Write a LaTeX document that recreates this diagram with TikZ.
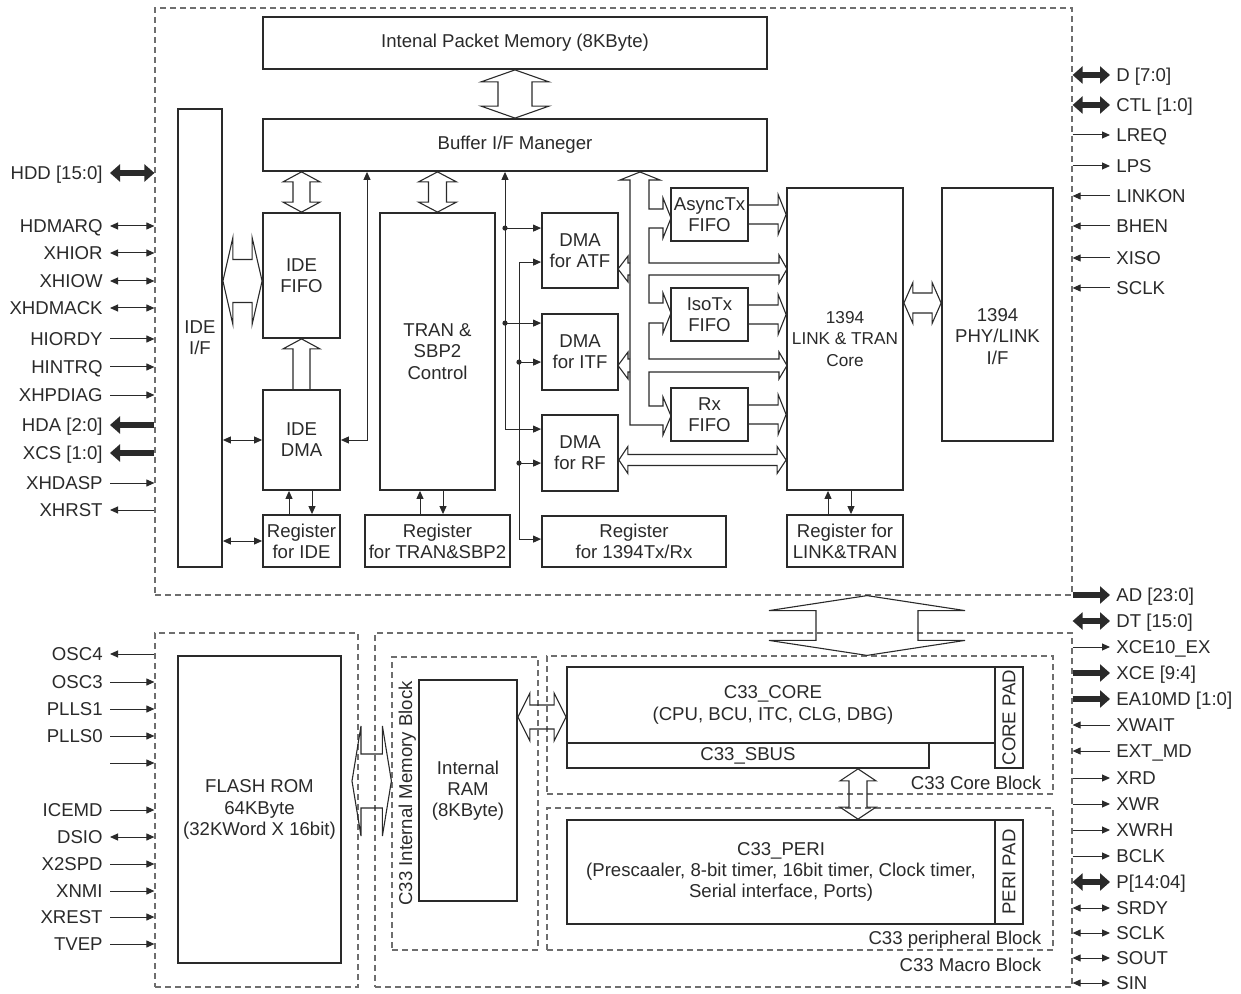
\documentclass[tikz,border=0pt]{standalone}
\usepackage{fontspec}
\setmainfont{Liberation Sans}
\usepackage{tikz}
\usetikzlibrary{arrows.meta, positioning, fit, calc}
\definecolor{lineblk}{HTML}{2A2A2A}
\definecolor{dashgray}{HTML}{6E6E6E}
\newcommand{\blkfont}{\fontsize{9.3}{10.6}\selectfont}

% hollow bus arrows: #1 start, #2 end, #3 shaft half width, #4 head half width, #5 head length
\newcommand{\busV}[5]{\draw[bus] #1 -- ($#1+(#4,#5)$) -- ($#1+(#3,#5)$) -- ($#2+(#3,-#5)$) -- ($#2+(#4,-#5)$) -- #2 -- ($#2+(-#4,-#5)$) -- ($#2+(-#3,-#5)$) -- ($#1+(-#3,#5)$) -- ($#1+(-#4,#5)$) -- cycle;}
\newcommand{\busH}[5]{\draw[bus] #1 -- ($#1+(#5,#4)$) -- ($#1+(#5,#3)$) -- ($#2+(-#5,#3)$) -- ($#2+(-#5,#4)$) -- #2 -- ($#2+(-#5,-#4)$) -- ($#2+(-#5,-#3)$) -- ($#1+(#5,-#3)$) -- ($#1+(#5,-#4)$) -- cycle;}
\newcommand{\busRight}[5]{\draw[bus] ($#1+(0,#3)$) -- ($#2+(-#5,#3)$) -- ($#2+(-#5,#4)$) -- #2 -- ($#2+(-#5,-#4)$) -- ($#2+(-#5,-#3)$) -- ($#1+(0,-#3)$);}
\newcommand{\busUp}[5]{\draw[bus] ($#2+(-#3,0)$) -- ($#1+(-#3,#5)$) -- ($#1+(-#4,#5)$) -- #1 -- ($#1+(#4,#5)$) -- ($#1+(#3,#5)$) -- ($#2+(#3,0)$);}

\tikzset{
  blk/.style={draw=lineblk, line width=0.9pt, inner sep=0pt, align=center, text=lineblk, font=\blkfont},
  txt/.style={inner sep=0pt, align=center, text=lineblk, font=\blkfont},
  dashbox/.style={draw=dashgray, line width=0.6pt, dash pattern=on 3pt off 2pt, inner sep=0pt},
  pinL/.style={anchor=east, inner sep=0pt, text height=6.7pt, text depth=0pt, text=lineblk, font=\blkfont},
  pinR/.style={anchor=west, inner sep=0pt, text height=6.7pt, text depth=0pt, text=lineblk, font=\blkfont},
  sig/.style={draw=lineblk, line width=0.5pt, -{Triangle[length=4pt,width=3.5pt]}},
  sigboth/.style={draw=lineblk, line width=0.5pt, {Triangle[length=4pt,width=3.5pt]}-{Triangle[length=4pt,width=3.5pt]}},
  fat/.style={draw=lineblk, line width=3.3pt, -{Triangle[length=5pt,width=8.5pt]}},
  fatboth/.style={draw=lineblk, line width=3.3pt, {Triangle[length=5pt,width=8.5pt]}-{Triangle[length=5pt,width=8.5pt]}},
  bus/.style={draw=lineblk, line width=0.55pt, line join=miter},
}

\begin{document}
\begin{tikzpicture}[x=0.5pt, y=-0.5pt]
    \useasboundingbox (0,0) rectangle (1241,994);

    % dashed blocks
    \node[dashbox, fit={(155,8) (1072,595)}] (chip) {};
    \node[dashbox, fit={(155,633) (358,987)}] (flashblk) {};
    \node[dashbox, fit={(375,633) (1072,987)}] (macroblk) {};
    \node[dashbox, fit={(392,657) (538,950)}] (memblk) {};
    \node[dashbox, fit={(547,656) (1053,794)}] (coreblk) {};
    \node[dashbox, fit={(547,808) (1053,950)}] (periblk) {};

    % 1394 / IDE part
    \node[blk, minimum width=252pt, minimum height=26pt] (mem) at (515,43) {Intenal Packet Memory (8KByte)};
    \node[blk, minimum width=252pt, minimum height=26pt] (buf) at (515,145) {Buffer I/F Maneger};
    \node[blk, minimum width=22pt, minimum height=229pt] (ideif) at (200,338) {IDE\\I/F};
    \node[blk, minimum width=38.5pt, minimum height=62.5pt] (idefifo) at (301.5,275.5) {IDE\\FIFO};
    \node[blk, minimum width=38.5pt, minimum height=50pt] (idedma) at (301.5,440) {IDE\\DMA};
    \node[blk, minimum width=38.5pt, minimum height=26pt] (regide) at (301.5,541) {Register\\for IDE};
    \node[blk, minimum width=57.5pt, minimum height=138.5pt] (tran) at (437.5,351.5) {TRAN \&\\SBP2\\Control};
    \node[blk, minimum width=72.5pt, minimum height=26pt] (regtran) at (437.5,541) {Register\\for TRAN\&SBP2};
    \node[blk, minimum width=38pt, minimum height=37.5pt] (dmaatf) at (580,250.5) {DMA\\for ATF};
    \node[blk, minimum width=38pt, minimum height=38pt] (dmaitf) at (580,352) {DMA\\for ITF};
    \node[blk, minimum width=38pt, minimum height=38pt] (dmarf) at (580,453) {DMA\\for RF};
    \node[blk, minimum width=92pt, minimum height=25.5pt] (reg1394) at (634,541.5) {Register\\for 1394Tx/Rx};
    \node[blk, minimum width=38.5pt, minimum height=26.5pt] (asyncfifo) at (709.5,214.5) {AsyncTx\\FIFO};
    \node[blk, minimum width=38.5pt, minimum height=26.5pt] (isofifo) at (709.5,314.5) {IsoTx\\FIFO};
    \node[blk, minimum width=38.5pt, minimum height=26.5pt] (rxfifo) at (709.5,414.5) {Rx\\FIFO};
    \node[blk, minimum width=58pt, minimum height=151pt, font=\fontsize{8.6}{10.8}\selectfont] (core) at (845,339) {1394\\LINK \& TRAN\\Core};
    \node[blk, minimum width=55.5pt, minimum height=126.5pt] (phy) at (997.5,314.5) {};
    \node[txt] (phytxt) at ([yshift=-11pt]phy.center) {1394\\PHY/LINK\\I/F};
    \node[blk, minimum width=58pt, minimum height=26pt] (reglink) at (845,541) {Register for\\LINK\&TRAN};

    % C33 part
    \node[blk, minimum width=81.5pt, minimum height=153.5pt] (flash) at (259.5,809.5) {FLASH ROM\\64KByte\\(32KWord X 16bit)};
    \node[blk, minimum width=49pt, minimum height=110.5pt] (ram) at (468,790.5) {Internal\\RAM\\(8KByte)};
    \node[blk, minimum width=214pt, minimum height=38pt] (core33) at (781,705) {};
    \node[txt] (core33txt) at ([xshift=-4pt]core33.center) {C33\_CORE\\(CPU, BCU, ITC, CLG, DBG)};
    \node[blk, minimum width=181pt, minimum height=12.5pt] (sbus) at (748,755.5) {C33\_SBUS};
    \node[blk, minimum width=14pt, minimum height=50.5pt] (corepad) at (1009,717.5) {};
    \node[txt, rotate=90] (corepadtxt) at (corepad) {CORE PAD};
    \node[blk, minimum width=214pt, minimum height=52pt] (peri) at (781,872) {C33\_PERI\\(Prescaaler, 8-bit timer, 16bit timer, Clock timer,\\Serial interface, Ports)};
    \node[blk, minimum width=14pt, minimum height=52pt] (peripad) at (1009,872) {};
    \node[txt, rotate=90] (peripadtxt) at (peripad) {PERI PAD};

    \node[txt, anchor=base east] (corelbl) at ([xshift=-6pt, yshift=2.5pt]coreblk.south east) {C33 Core Block};
    \node[txt, anchor=base east] (perilbl) at ([xshift=-6pt, yshift=3pt]periblk.south east) {C33 peripheral Block};
    \node[txt, anchor=base east] (macrolbl) at ([xshift=-15.5pt, yshift=8pt]macroblk.south east) {C33 Macro Block};
    \node[txt, rotate=90] (memlbl) at ([xshift=8pt, yshift=5pt]memblk.west) {C33 Internal Memory Block};

    % hollow buses
    \busV{(mem.south)}{(buf.north)}{17}{34}{12}
    \busV{(buf.south -| idefifo.north)}{(idefifo.north)}{8.5}{18.5}{10}
    \busV{(buf.south -| tran.north)}{(tran.north)}{9}{19}{10}
    \coordinate (fifoport) at ([yshift=-2.75pt]idefifo.west);
    \busH{(fifoport -| ideif.east)}{(fifoport)}{21.5}{43.5}{10}
    \busUp{(idefifo.south)}{(idedma.north)}{8.5}{18.5}{10}
    \busRight{(asyncfifo.east)}{(asyncfifo.east -| core.west)}{9.5}{20}{8}
    \busRight{(isofifo.east)}{(isofifo.east -| core.west)}{9.5}{20}{8}
    \busRight{(rxfifo.east)}{(rxfifo.east -| core.west)}{9.5}{20}{8}
    \coordinate (rfport) at ([yshift=-3.5pt]dmarf.east);
    \busH{(rfport)}{(rfport -| core.west)}{5.5}{13.5}{9}
    \coordinate (phyport) at ([yshift=5.75pt]phy.west);
    \busH{(phyport -| core.east)}{(phyport)}{10}{20.5}{9}
    \coordinate (macroport) at (867,0);
    \busV{(macroport |- chip.south)}{(macroport |- coreblk.north)}{51}{98}{15}
    \coordinate (romport) at (352,781);
    \busH{(romport)}{(romport -| memblk.west)}{27}{55}{9}
    \coordinate (ramport) at ([yshift=-6pt]core33.west);
    \busH{(ramport -| ram.east)}{(ramport)}{12}{24}{12}
    \coordinate (sbusport) at ([xshift=55pt]sbus.south);
    \busV{(sbusport)}{(sbusport |- peri.north)}{9}{18}{12}

    % FIFO bus out of the Buffer I/F
    \draw[bus] (630,425) -- (630,180) -- (620,180) -- (640,172) -- (660,180) -- (649,180)
        -- (649,209) -- (663,209) -- (663,198) -- (671,218) -- (663,238) -- (663,228) -- (649,228)
        -- (649,263) -- (779,263) -- (779,255) -- (787,269) -- (779,283) -- (779,275) -- (649,275)
        -- (649,303) -- (663,303) -- (663,293) -- (671,313) -- (663,333) -- (663,323) -- (649,323)
        -- (649,359) -- (779,359) -- (779,352) -- (787,365.5) -- (779,379) -- (779,372) -- (649,372)
        -- (649,406) -- (663,406) -- (663,397) -- (671,416) -- (663,435) -- (663,425) -- cycle;
    \draw[bus] (630,263) -- (628,263) -- (628,256) -- (618,269) -- (628,282) -- (628,275) -- (630,275);
    \draw[bus] (630,359) -- (628,359) -- (628,352) -- (618,365.5) -- (628,379) -- (628,372) -- (630,372);

    % control lines
    \draw[sigboth] (ideif.east |- idedma) -- (idedma.west);
    \draw[sigboth] (ideif.east |- regide) -- (regide.west);
    \coordinate (tapide) at (367,0);
    \draw[sigboth] (idedma.east) -| (tapide |- buf.south);
    \draw[sig] ([xshift=-6.25pt]regide.north) -- ([xshift=-6.25pt]idedma.south);
    \draw[sig] ([xshift=5.25pt]idedma.south) -- ([xshift=5.25pt]regide.north);
    \draw[sig] ([xshift=-8.75pt]regtran.north) -- ([xshift=-8.75pt]tran.south);
    \draw[sig] ([xshift=2.75pt]tran.south) -- ([xshift=2.75pt]regtran.north);
    \draw[sig] ([xshift=-8.5pt]reglink.north) -- ([xshift=-8.5pt]core.south);
    \draw[sig] ([xshift=3pt]core.south) -- ([xshift=3pt]reglink.north);

    \coordinate (tapA) at (505,0);
    \coordinate (tapB) at (519,0);
    \coordinate (atfA) at ([yshift=-8pt]dmaatf.north west);
    \coordinate (itfA) at ([yshift=-5pt]dmaitf.north west);
    \coordinate (rfA) at ([yshift=-7.5pt]dmarf.north west);
    \coordinate (atfB) at ([yshift=-25pt]dmaatf.north west);
    \coordinate (itfB) at ([yshift=-24.5pt]dmaitf.north west);
    \coordinate (rfB) at ([yshift=-24.5pt]dmarf.north west);
    \coordinate (regB) at ([yshift=-12pt]reg1394.north west);
    \draw[sigboth] (tapA |- buf.south) |- (rfA);
    \draw[sig] (tapA |- atfA) -- (atfA);
    \draw[sig] (tapA |- itfA) -- (itfA);
    \draw[sigboth] (atfB) -| (tapB |- regB) -- (regB);
    \draw[sig] (tapB |- itfB) -- (itfB);
    \draw[sig] (tapB |- rfB) -- (rfB);
    \fill[lineblk] (tapA |- atfA) circle (1.3pt);
    \fill[lineblk] (tapA |- itfA) circle (1.3pt);
    \fill[lineblk] (tapB |- itfB) circle (1.3pt);
    \fill[lineblk] (tapB |- rfB) circle (1.3pt);

    % pins, left side
    \node[pinL] (l173) at (103,173) {HDD [15:0]};
    \draw[fatboth] ([xshift=3.5pt]l173.east) -- (l173.east -| chip.west);
    \foreach \y/\lbl in {226/HDMARQ, 253/XHIOR, 281/XHIOW, 308/XHDMACK} {
        \node[pinL] (l\y) at (103,\y) {\lbl};
        \draw[sigboth] ([xshift=3.5pt]l\y.east) -- (l\y.east -| chip.west);
    }
    \foreach \y/\lbl in {339/HIORDY, 367/HINTRQ, 395/XHPDIAG, 483/XHDASP} {
        \node[pinL] (l\y) at (103,\y) {\lbl};
        \draw[sig] ([xshift=3.5pt]l\y.east) -- (l\y.east -| chip.west);
    }
    \foreach \y/\lbl in {425/HDA [2:0], 453/XCS [1:0]} {
        \node[pinL] (l\y) at (103,\y) {\lbl};
        \draw[fat] (l\y.east -| chip.west) -- ([xshift=3.5pt]l\y.east);
    }
    \node[pinL] (l510) at (103,510) {XHRST};
    \draw[sig] (l510.east -| chip.west) -- ([xshift=3.5pt]l510.east);

    \node[pinL] (l654) at (103,654) {OSC4};
    \draw[sig] (l654.east -| flashblk.west) -- ([xshift=3.5pt]l654.east);
    \foreach \y/\lbl in {682/OSC3, 709/PLLS1, 736/PLLS0, 810/ICEMD, 864/X2SPD, 891/XNMI, 917/XREST, 944/TVEP} {
        \node[pinL] (l\y) at (103,\y) {\lbl};
        \draw[sig] ([xshift=3.5pt]l\y.east) -- (l\y.east -| flashblk.west);
    }
    \coordinate (l763) at (103,763);
    \draw[sig] ([xshift=3.5pt]l763) -- (l763 -| flashblk.west);
    \node[pinL] (l837) at (103,837) {DSIO};
    \draw[sigboth] ([xshift=3.5pt]l837.east) -- (l837.east -| flashblk.west);

    % pins, right side
    \foreach \y/\lbl in {75/D [7:0], 105/CTL [1:0]} {
        \node[pinR] (r\y) at (1116,\y) {\lbl};
        \draw[fatboth] (r\y.west -| chip.east) -- ([xshift=-3pt]r\y.west);
    }
    \foreach \y/\lbl in {135/LREQ, 166/LPS} {
        \node[pinR] (r\y) at (1116,\y) {\lbl};
        \draw[sig] (r\y.west -| chip.east) -- ([xshift=-3pt]r\y.west);
    }
    \foreach \y/\lbl in {196/LINKON, 226/BHEN, 258/XISO, 288/SCLK} {
        \node[pinR] (r\y) at (1116,\y) {\lbl};
        \draw[sig] ([xshift=-3pt]r\y.west) -- (r\y.west -| chip.east);
    }
    \foreach \y/\lbl in {595/AD [23:0], 673/XCE [9:4], 699/EA10MD [1:0]} {
        \node[pinR] (r\y) at (1116,\y) {\lbl};
        \draw[fat] (r\y.west -| macroblk.east) -- ([xshift=-3pt]r\y.west);
    }
    \foreach \y/\lbl in {621/DT [15:0], 882/P[14:04]} {
        \node[pinR] (r\y) at (1116,\y) {\lbl};
        \draw[fatboth] (r\y.west -| macroblk.east) -- ([xshift=-3pt]r\y.west);
    }
    \foreach \y/\lbl in {647/XCE10\_EX, 778/XRD, 804/XWR, 830/XWRH, 856/BCLK} {
        \node[pinR] (r\y) at (1116,\y) {\lbl};
        \draw[sig] (r\y.west -| macroblk.east) -- ([xshift=-3pt]r\y.west);
    }
    \foreach \y/\lbl in {725/XWAIT, 751/EXT\_MD} {
        \node[pinR] (r\y) at (1116,\y) {\lbl};
        \draw[sig] ([xshift=-3pt]r\y.west) -- (r\y.west -| macroblk.east);
    }
    \foreach \y/\lbl in {908/SRDY, 933/SCLK, 958/SOUT, 983/SIN} {
        \node[pinR] (r\y) at (1116,\y) {\lbl};
        \draw[sigboth] (r\y.west -| macroblk.east) -- ([xshift=-3pt]r\y.west);
    }
\end{tikzpicture}
\end{document}
